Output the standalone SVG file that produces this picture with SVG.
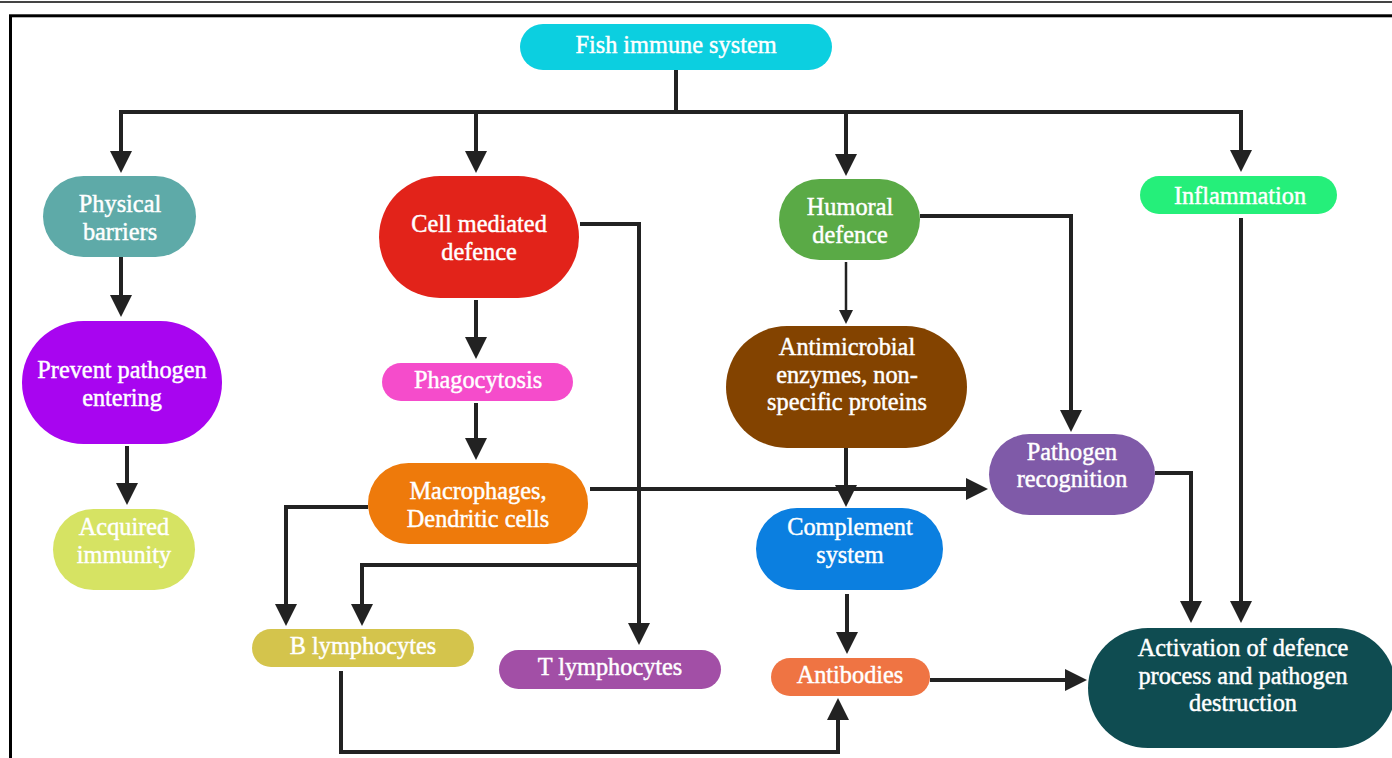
<svg xmlns="http://www.w3.org/2000/svg" width="1392" height="758" viewBox="0 0 1392 758">
<defs>
<marker id="ah" markerUnits="userSpaceOnUse" markerWidth="22" markerHeight="22" refX="0" refY="11" orient="auto"><path d="M0,0 L22,11 L0,22 z" fill="#222"/></marker>
<marker id="ahs" markerUnits="userSpaceOnUse" markerWidth="14" markerHeight="14" refX="0" refY="7" orient="auto"><path d="M0,0 L14,7 L0,14 z" fill="#222"/></marker>
<style>
.t{font-family:"Liberation Serif","Times New Roman",serif;font-size:24.3px;fill:#fff;stroke:#fff;stroke-width:0.45;text-anchor:middle}
.c{fill:none;stroke:#222;stroke-width:4}
.ca{fill:none;stroke:#222;stroke-width:4;marker-end:url(#ah)}
</style>
</defs>
<rect width="1392" height="758" fill="#fff"/>
<line x1="0" y1="2" x2="1392" y2="2" stroke="#444" stroke-width="2"/>
<rect x="10.5" y="15.8" width="1400" height="760" fill="none" stroke="#000" stroke-width="3"/>
<g id="connectors">
<path class="c" d="M676,70 V112 M119,112 H1243"/>
<path class="ca" d="M121,112 V151"/>
<path class="ca" d="M476,112 V151"/>
<path class="ca" d="M846,112 V154"/>
<path class="ca" d="M1241,112 V150"/>
<path class="ca" d="M121,257 V295"/>
<path class="ca" d="M127,446 V483"/>
<path class="ca" d="M476,300 V337"/>
<path class="ca" d="M476,403 V438"/>
<path class="ca" d="M580,224 H639 V623"/>
<path class="ca" d="M639,565 H362 V604"/>
<path class="ca" d="M368,507 H286 V604"/>
<path class="ca" d="M590,489 H966"/>
<path fill="none" stroke="#222" stroke-width="2.5" marker-end="url(#ahs)" d="M846,262 V310"/>
<path class="ca" d="M846,448 V485"/>
<path class="ca" d="M920,216 H1071 V410"/>
<path class="ca" d="M1155,473 H1191 V601"/>
<path class="ca" d="M1241,218 V601"/>
<path class="ca" d="M847,594 V632"/>
<path class="ca" d="M930,680 H1065"/>
<path class="ca" d="M341,671 V752 H838 V720"/>
</g>
<g id="n-fish"><rect x="520" y="24" width="312" height="46" rx="23" fill="#0ccfe0"/><text class="t" x="676" y="53">Fish immune system</text></g>
<g id="n-physical"><rect x="43" y="176" width="153" height="81" rx="40.5" fill="#5eaaa8"/><text class="t" x="120" y="212">Physical</text><text class="t" x="120" y="240">barriers</text></g>
<g id="n-cell"><rect x="379" y="176" width="200" height="122" rx="61" fill="#e2231a"/><text class="t" x="479" y="232">Cell mediated</text><text class="t" x="479" y="260">defence</text></g>
<g id="n-humoral"><rect x="779" y="179" width="141" height="81" rx="40.5" fill="#5aaa46"/><text class="t" x="850" y="215">Humoral</text><text class="t" x="850" y="243">defence</text></g>
<g id="n-inflammation"><rect x="1140" y="176" width="197" height="38" rx="19" fill="#25ef7a"/><text class="t" x="1240" y="204">Inflammation</text></g>
<g id="n-prevent"><rect x="22" y="321" width="200" height="123" rx="61.5" fill="#a805f0"/><text class="t" x="122" y="378">Prevent pathogen</text><text class="t" x="122" y="406">entering</text></g>
<g id="n-phago"><rect x="382" y="363" width="191" height="38" rx="19" fill="#f54ccb"/><text class="t" x="478" y="388">Phagocytosis</text></g>
<g id="n-antimicrobial"><rect x="726" y="326" width="241" height="122" rx="61" fill="#834300"/><text class="t" x="847" y="355">Antimicrobial</text><text class="t" x="847" y="383">enzymes, non-</text><text class="t" x="847" y="410">specific proteins</text></g>
<g id="n-recognition"><rect x="989" y="434" width="166" height="81" rx="40.5" fill="#7f5aa8"/><text class="t" x="1072" y="460">Pathogen</text><text class="t" x="1072" y="487">recognition</text></g>
<g id="n-macro"><rect x="368" y="463" width="220" height="81" rx="40.5" fill="#ee7a0b"/><text class="t" x="478" y="499">Macrophages,</text><text class="t" x="478" y="527">Dendritic cells</text></g>
<g id="n-acquired"><rect x="53" y="509" width="142" height="81" rx="40.5" fill="#d6e363"/><text class="t" x="124" y="535">Acquired</text><text class="t" x="124" y="563">immunity</text></g>
<g id="n-complement"><rect x="756" y="508" width="187" height="82" rx="41" fill="#0b7fe0"/><text class="t" x="850" y="535">Complement</text><text class="t" x="850" y="563">system</text></g>
<g id="n-blymph"><rect x="252" y="629" width="222" height="38" rx="19" fill="#d4c44c"/><text class="t" x="363" y="654">B lymphocytes</text></g>
<g id="n-tlymph"><rect x="499" y="650" width="222" height="39" rx="19.5" fill="#a24fa6"/><text class="t" x="610" y="675">T lymphocytes</text></g>
<g id="n-antibodies"><rect x="771" y="658" width="159" height="38" rx="19" fill="#ef7443"/><text class="t" x="850" y="683">Antibodies</text></g>
<g id="n-activation"><rect x="1088" y="628" width="308" height="120" rx="60" fill="#0f4c51"/><text class="t" x="1243" y="656">Activation of defence</text><text class="t" x="1243" y="684">process and pathogen</text><text class="t" x="1243" y="711">destruction</text></g>
</svg>
